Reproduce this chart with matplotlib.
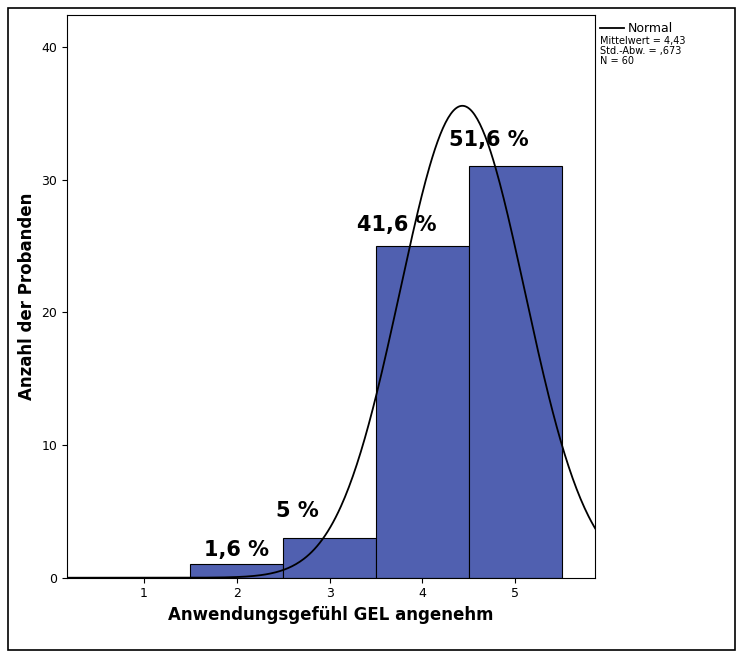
import numpy as np
import matplotlib.pyplot as plt
from matplotlib.patches import Rectangle

# Daten
kategorien = [1, 2, 3, 4, 5]
anzahl = [0, 1, 3, 25, 31]
prozent = ["", "1,6 %", "5 %", "41,6 %", "51,6 %"]
mittelwert = 4.43
std_abw = 0.673
n = 60

fig = plt.figure(figsize=(7.43, 6.58), dpi=100)
fig.patches.append(Rectangle((0.011, 0.012), 0.978, 0.976, transform=fig.transFigure,
                             fill=False, edgecolor="black", linewidth=1.2))

ax = fig.add_axes([0.090, 0.122, 0.711, 0.855])
ax.bar(kategorien, anzahl, width=1.0, color="#5060b0", edgecolor="black", linewidth=0.8)

x = np.linspace(0.17, 5.86, 400)
y = n * np.exp(-0.5 * ((x - mittelwert) / std_abw) ** 2) / (std_abw * np.sqrt(2 * np.pi))
ax.plot(x, y, color="black", linewidth=1.3)

offsets = {2: (0.0, 0.3), 3: (-0.35, 1.3), 4: (-0.28, 0.8), 5: (-0.28, 1.2)}
for k, a, p in zip(kategorien, anzahl, prozent):
    if p:
        dx, dy = offsets[k]
        ax.text(k + dx, a + dy, p, ha="center", va="bottom", fontsize=15, fontweight="bold")

ax.set_xlim(0.17, 5.86)
ax.set_ylim(0, 42.4)
ax.set_xticks(kategorien)
ax.set_yticks([0, 10, 20, 30, 40])
ax.tick_params(labelsize=9)
ax.set_xlabel("Anwendungsgefühl GEL angenehm", fontsize=12, fontweight="bold")
ax.set_ylabel("Anzahl der Probanden", fontsize=12, fontweight="bold")

# Legende
fig.lines.append(plt.Line2D([0.808, 0.84], [0.957, 0.957], transform=fig.transFigure,
                            color="black", linewidth=1.3))
fig.text(0.845, 0.957, "Normal", fontsize=9, va="center")
fig.text(0.808, 0.937, "Mittelwert = 4,43", fontsize=7, va="center")
fig.text(0.808, 0.922, "Std.-Abw. = ,673", fontsize=7, va="center")
fig.text(0.808, 0.907, "N = 60", fontsize=7, va="center")

plt.savefig("out.png", dpi=100)
